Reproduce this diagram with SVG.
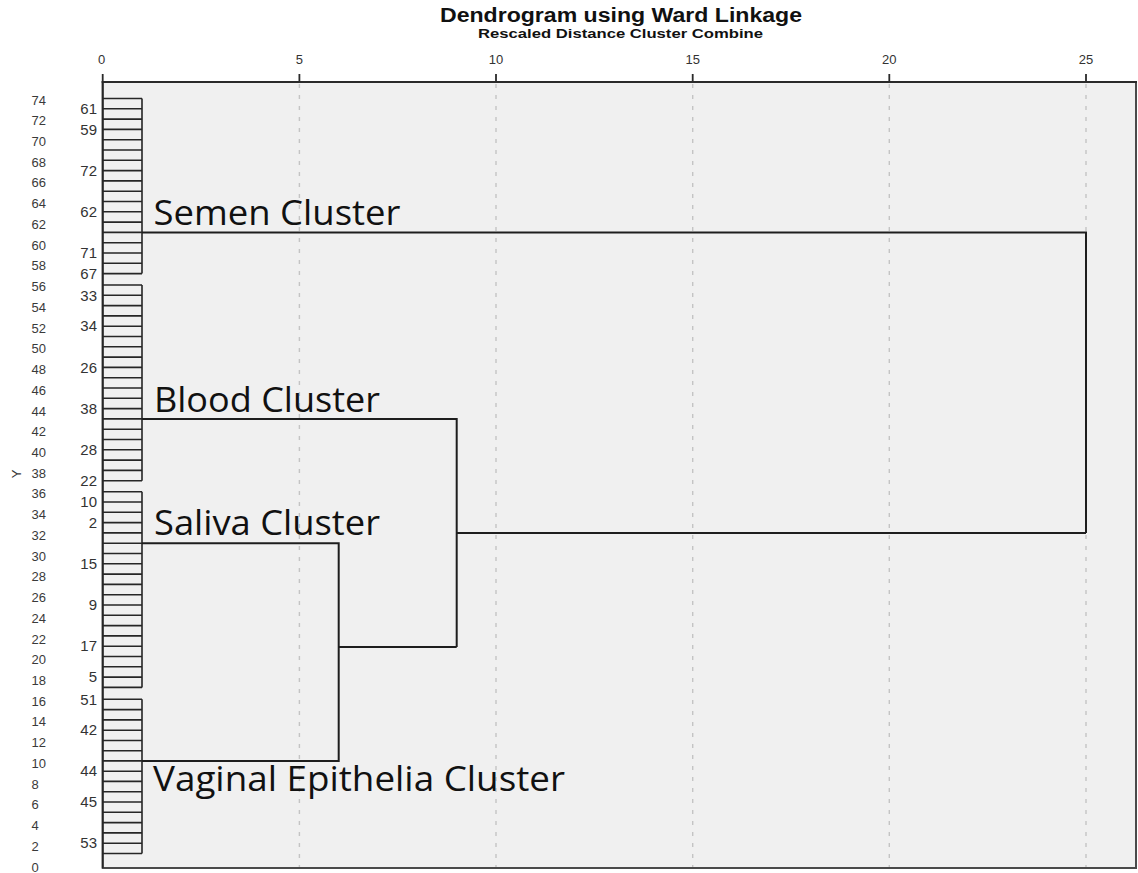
<svg xmlns="http://www.w3.org/2000/svg" width="1138" height="873" viewBox="0 0 1138 873">
<style>
.ax{font-family:"Liberation Sans",Arial,sans-serif;font-size:13px;fill:#3a3a3a}
.case{font-family:"Liberation Sans",Arial,sans-serif;font-size:15px;fill:#333;text-anchor:end}
.tick{font-family:"Liberation Sans",Arial,sans-serif;font-size:13px;fill:#333;text-anchor:middle}
.title{font-family:"Liberation Sans",Arial,sans-serif;font-weight:bold;fill:#111}
.big{font-family:"Open Sans","Noto Sans",sans-serif;font-size:34px;fill:#111}
.grid{stroke:#c4c4c4;stroke-width:1.4;stroke-dasharray:4 7;fill:none}
.leaf{stroke:#262626;stroke-width:1.6;fill:none}
.link{stroke:#1e1e1e;stroke-width:2;fill:none}
</style>
<rect x="0" y="0" width="1138" height="873" fill="#ffffff"/>
<g id="plot-area">
<rect x="102.7" y="82" width="1033.3" height="786" fill="#f0f0f0" stroke="#4a4a4a" stroke-width="2"/>
<line x1="101.7" y1="82" x2="1137" y2="82" stroke="#2a2a2a" stroke-width="2.2"/>
<line x1="102.7" y1="82" x2="102.7" y2="868" stroke="#262626" stroke-width="1.8"/>
</g>
<g id="gridlines">
<line class="grid" x1="299.4" y1="84" x2="299.4" y2="867"/>
<line class="grid" x1="496" y1="84" x2="496" y2="867"/>
<line class="grid" x1="692.7" y1="84" x2="692.7" y2="867"/>
<line class="grid" x1="889.3" y1="84" x2="889.3" y2="867"/>
<line class="grid" x1="1086" y1="84" x2="1086" y2="867"/>
</g>
<g id="top-axis">
<path d="M102.7 74V82M299.4 74V82M496 74V82M692.7 74V82M889.3 74V82M1086 74V82" stroke="#2a2a2a" stroke-width="1.8"/>
<text class="tick" x="101.7" y="64">0</text>
<text class="tick" x="299.4" y="64">5</text>
<text class="tick" x="496" y="64">10</text>
<text class="tick" x="692.7" y="64">15</text>
<text class="tick" x="889.3" y="64">20</text>
<text class="tick" x="1086" y="64">25</text>
</g>
<g id="titles">
<text class="title" x="440" y="22" font-size="19.5" textLength="362" lengthAdjust="spacingAndGlyphs">Dendrogram using Ward Linkage</text>
<text class="title" x="478" y="38" font-size="12.5" textLength="285" lengthAdjust="spacingAndGlyphs">Rescaled Distance Cluster Combine</text>
</g>
<g id="y-axis">
<text class="ax" x="16" y="474" text-anchor="middle" transform="rotate(-90 16 474)" dy="5" font-size="14">Y</text>
<text class="ax" x="31.5" y="104.5">74</text>
<text class="ax" x="31.5" y="125.2">72</text>
<text class="ax" x="31.5" y="146">70</text>
<text class="ax" x="31.5" y="166.7">68</text>
<text class="ax" x="31.5" y="187.4">66</text>
<text class="ax" x="31.5" y="208.2">64</text>
<text class="ax" x="31.5" y="228.9">62</text>
<text class="ax" x="31.5" y="249.6">60</text>
<text class="ax" x="31.5" y="270.3">58</text>
<text class="ax" x="31.5" y="291.1">56</text>
<text class="ax" x="31.5" y="311.8">54</text>
<text class="ax" x="31.5" y="332.5">52</text>
<text class="ax" x="31.5" y="353.3">50</text>
<text class="ax" x="31.5" y="374">48</text>
<text class="ax" x="31.5" y="394.7">46</text>
<text class="ax" x="31.5" y="415.5">44</text>
<text class="ax" x="31.5" y="436.2">42</text>
<text class="ax" x="31.5" y="456.9">40</text>
<text class="ax" x="31.5" y="477.6">38</text>
<text class="ax" x="31.5" y="498.4">36</text>
<text class="ax" x="31.5" y="519.1">34</text>
<text class="ax" x="31.5" y="539.8">32</text>
<text class="ax" x="31.5" y="560.6">30</text>
<text class="ax" x="31.5" y="581.3">28</text>
<text class="ax" x="31.5" y="602">26</text>
<text class="ax" x="31.5" y="622.8">24</text>
<text class="ax" x="31.5" y="643.5">22</text>
<text class="ax" x="31.5" y="664.2">20</text>
<text class="ax" x="31.5" y="685">18</text>
<text class="ax" x="31.5" y="705.7">16</text>
<text class="ax" x="31.5" y="726.4">14</text>
<text class="ax" x="31.5" y="747.1">12</text>
<text class="ax" x="31.5" y="767.9">10</text>
<text class="ax" x="31.5" y="788.6">8</text>
<text class="ax" x="31.5" y="809.3">6</text>
<text class="ax" x="31.5" y="830.1">4</text>
<text class="ax" x="31.5" y="850.8">2</text>
<text class="ax" x="31.5" y="871.5">0</text>
</g>
<g id="node-semen">
<path class="leaf" d="M102.7 98.5H142M102.7 108.8H142M102.7 119.1H142M102.7 129.4H142M102.7 139.7H142M102.7 150H142M102.7 160.3H142M102.7 170.6H142M102.7 180.9H142M102.7 191.2H142M102.7 201.5H142M102.7 211.8H142M102.7 222.1H142M102.7 232.4H142M102.7 242.7H142M102.7 253H142M102.7 263.3H142M102.7 273.6H142M142 98.5V273.6"/>
<text class="case" x="97" y="114">61</text>
<text class="case" x="97" y="134.6">59</text>
<text class="case" x="97" y="175.8">72</text>
<text class="case" x="97" y="217">62</text>
<text class="case" x="97" y="258.2">71</text>
<text class="case" x="97" y="278.8">67</text>
<text class="big" x="153.5" y="225" textLength="247" lengthAdjust="spacingAndGlyphs">Semen Cluster</text>
</g>
<g id="node-blood">
<path class="leaf" d="M102.7 285H142M102.7 295.3H142M102.7 305.6H142M102.7 315.9H142M102.7 326.2H142M102.7 336.5H142M102.7 346.8H142M102.7 357.1H142M102.7 367.4H142M102.7 377.7H142M102.7 388H142M102.7 398.3H142M102.7 408.6H142M102.7 418.9H142M102.7 429.2H142M102.7 439.5H142M102.7 449.8H142M102.7 460.1H142M102.7 470.4H142M102.7 480.7H142M142 285V480.7"/>
<text class="case" x="97" y="300.5">33</text>
<text class="case" x="97" y="331.4">34</text>
<text class="case" x="97" y="372.6">26</text>
<text class="case" x="97" y="413.8">38</text>
<text class="case" x="97" y="455">28</text>
<text class="case" x="97" y="485.9">22</text>
<text class="big" x="154" y="411.7" textLength="226" lengthAdjust="spacingAndGlyphs">Blood Cluster</text>
</g>
<g id="node-saliva">
<path class="leaf" d="M102.7 491.7H142M102.7 502H142M102.7 512.3H142M102.7 522.6H142M102.7 532.9H142M102.7 543.2H142M102.7 553.5H142M102.7 563.8H142M102.7 574.1H142M102.7 584.4H142M102.7 594.7H142M102.7 605H142M102.7 615.3H142M102.7 625.6H142M102.7 635.9H142M102.7 646.2H142M102.7 656.5H142M102.7 666.8H142M102.7 677.1H142M102.7 687.4H142M142 491.7V687.4"/>
<text class="case" x="97" y="507.2">10</text>
<text class="case" x="97" y="527.8">2</text>
<text class="case" x="97" y="569">15</text>
<text class="case" x="97" y="610.2">9</text>
<text class="case" x="97" y="651.4">17</text>
<text class="case" x="97" y="682.3">5</text>
<text class="big" x="154" y="535" textLength="226" lengthAdjust="spacingAndGlyphs">Saliva Cluster</text>
</g>
<g id="node-vaginal">
<path class="leaf" d="M102.7 699.3H142M102.7 709.6H142M102.7 719.9H142M102.7 730.2H142M102.7 740.5H142M102.7 750.8H142M102.7 760.9H142M102.7 771.2H142M102.7 781.4H142M102.7 791.7H142M102.7 802H142M102.7 812.3H142M102.7 822.6H142M102.7 832.9H142M102.7 843.2H142M102.7 853.5H142M142 699.3V853.5"/>
<text class="case" x="97" y="704.5">51</text>
<text class="case" x="97" y="735.4">42</text>
<text class="case" x="97" y="776.4">44</text>
<text class="case" x="97" y="807.2">45</text>
<text class="case" x="97" y="848.4">53</text>
<text class="big" x="153" y="790.5" textLength="412" lengthAdjust="spacingAndGlyphs">Vaginal Epithelia Cluster</text>
</g>
<g id="connectors">
<path class="link" d="M142 232.4H1086V533"/>
<path class="link" d="M142 418.9H456.7V647"/>
<path class="link" d="M142 543.2H338.7V760.9H142"/>
<path class="link" d="M338.7 647H456.7"/>
<path class="link" d="M456.7 533H1086"/>
</g>
</svg>
